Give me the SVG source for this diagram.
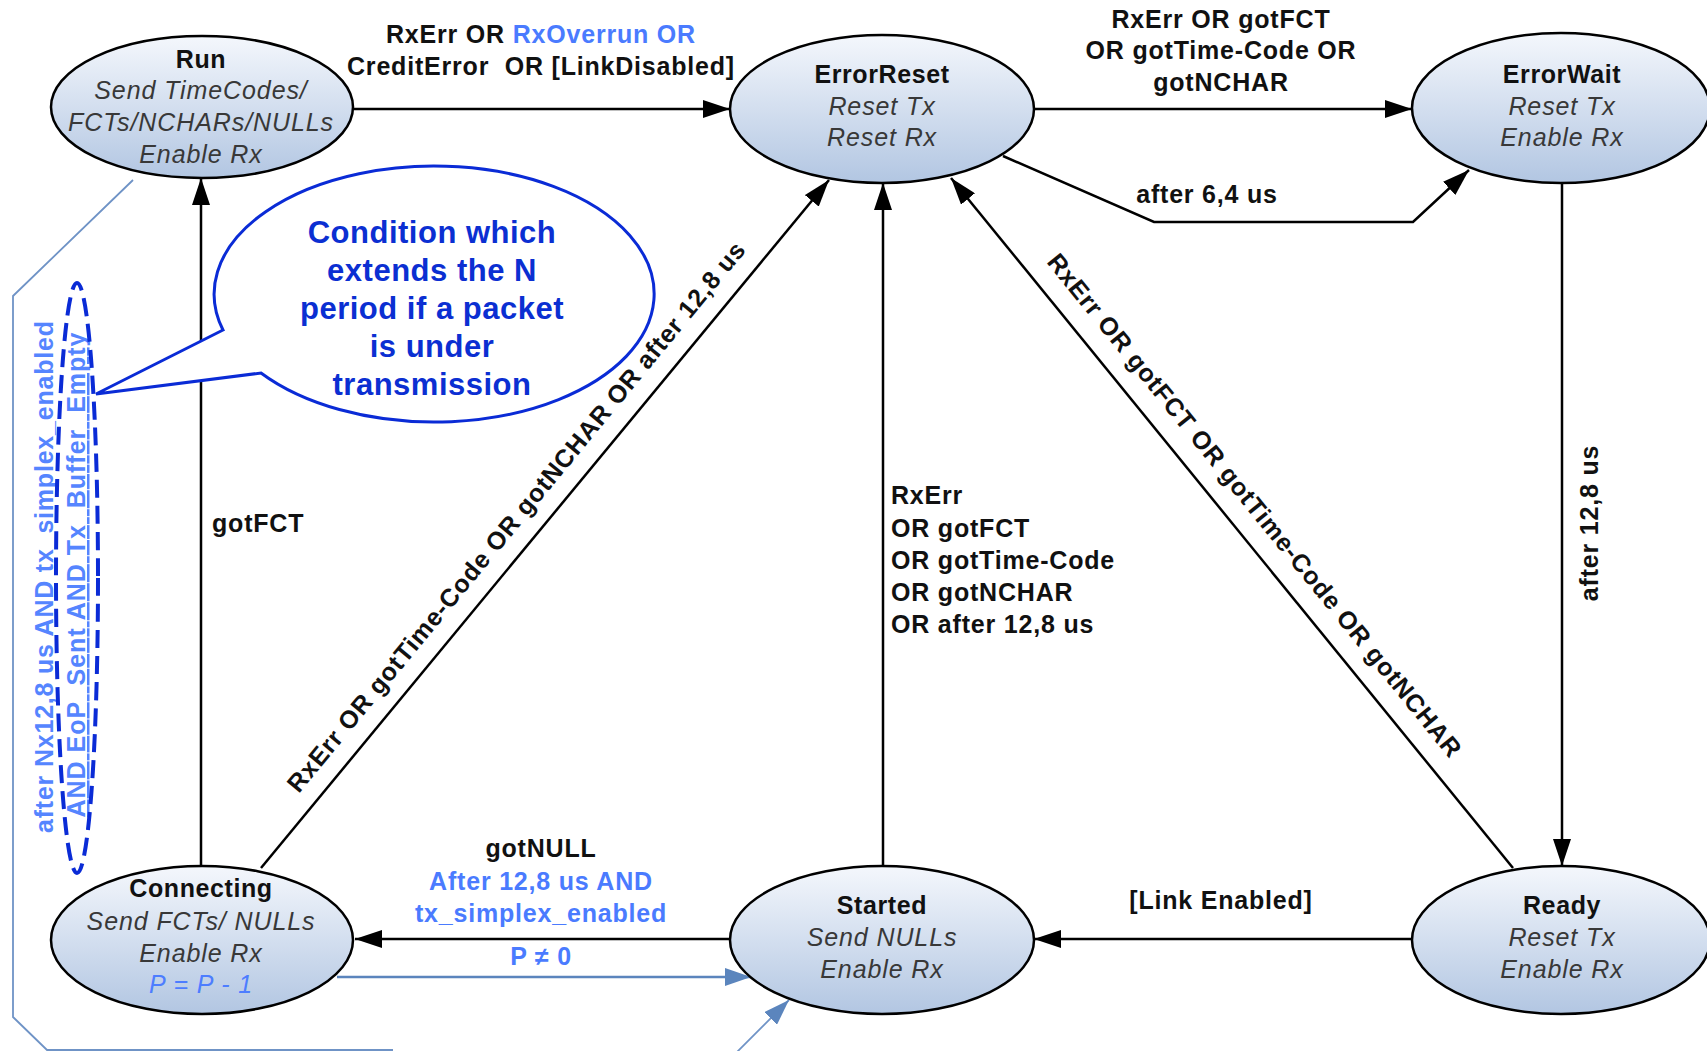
<svg xmlns="http://www.w3.org/2000/svg" width="1707" height="1051" viewBox="0 0 1707 1051">
  <defs>
    <linearGradient id="nodeFill" x1="0" y1="0" x2="0" y2="1">
      <stop offset="0" stop-color="#f4f7fc"/>
      <stop offset="1" stop-color="#b2c6e2"/>
    </linearGradient>
    <marker id="arrow" markerUnits="userSpaceOnUse" markerWidth="27" markerHeight="18" refX="27" refY="9" orient="auto">
      <path d="M0,0 L27,9 L0,18 Z" fill="#000"/>
    </marker>
    <marker id="arrowBlue" markerUnits="userSpaceOnUse" markerWidth="26" markerHeight="18" refX="26" refY="9" orient="auto">
      <path d="M0,0 L26,9 L0,18 Z" fill="#5b85bd"/>
    </marker>
    <style>
      .state { fill: url(#nodeFill); stroke: #000; stroke-width: 2.5; }
      .title { font-family: "Liberation Sans", Arial, sans-serif; font-weight: bold; font-size: 25px; letter-spacing: 0.6px; fill: #111; text-anchor: middle; }
      .action { font-family: "Liberation Sans", Arial, sans-serif; font-style: italic; font-size: 25px; letter-spacing: 0.9px; fill: #383838; text-anchor: middle; }
      .blueAction { font-family: "Liberation Sans", Arial, sans-serif; font-style: italic; font-size: 25px; letter-spacing: 0.9px; fill: #4d7dff; text-anchor: middle; }
      .edge { fill: none; stroke: #000; stroke-width: 2.5; }
      .edgeBlue { fill: none; stroke: #5b85bd; stroke-width: 2.5; }
      .edgeBlueThin { fill: none; stroke: #6f93c6; stroke-width: 1.8; }
      .label { font-family: "Liberation Sans", Arial, sans-serif; font-weight: bold; font-size: 25px; letter-spacing: 0.8px; fill: #111; }
      .mid { text-anchor: middle; }
      .blue { fill: #4a7bff; }
      .note { font-family: "Liberation Sans", Arial, sans-serif; font-weight: bold; font-size: 31px; letter-spacing: 0.5px; fill: #0b2fd2; text-anchor: middle; }
      .vert { font-family: "Liberation Sans", Arial, sans-serif; font-weight: bold; font-size: 25px; fill: #5585ff; text-anchor: middle; white-space: pre; }
    </style>
  </defs>

  <!-- transitions -->
  <g id="connectors">
    <!-- Run -> ErrorReset -->
    <line class="edge" x1="354" y1="109" x2="730" y2="109" marker-end="url(#arrow)"/>
    <!-- ErrorReset -> ErrorWait -->
    <line class="edge" x1="1034" y1="109" x2="1412" y2="109" marker-end="url(#arrow)"/>
    <!-- ErrorReset -> ErrorWait (timeout) -->
    <polyline class="edge" points="1003,156 1154,222 1413,222 1469,170" marker-end="url(#arrow)"/>
    <!-- ErrorWait -> Ready -->
    <line class="edge" x1="1562" y1="183" x2="1562" y2="866" marker-end="url(#arrow)"/>
    <!-- Ready -> Started -->
    <line class="edge" x1="1414" y1="939" x2="1034" y2="939" marker-end="url(#arrow)"/>
    <!-- Ready -> ErrorReset -->
    <line class="edge" x1="1513" y1="868" x2="951" y2="178" marker-end="url(#arrow)"/>
    <!-- Started -> ErrorReset -->
    <line class="edge" x1="883" y1="866" x2="883" y2="183" marker-end="url(#arrow)"/>
    <!-- Connecting -> ErrorReset -->
    <line class="edge" x1="261" y1="868" x2="829" y2="180" marker-end="url(#arrow)"/>
    <!-- Connecting -> Run -->
    <line class="edge" x1="201" y1="866" x2="201" y2="178" marker-end="url(#arrow)"/>
    <!-- Started -> Connecting -->
    <line class="edge" x1="730" y1="939" x2="355" y2="939" marker-end="url(#arrow)"/>
    <!-- Connecting -> Started (P = P - 1 loop) -->
    <line class="edgeBlue" x1="337" y1="977" x2="751" y2="977" marker-end="url(#arrowBlue)"/>
    <!-- Run -> Started (simplex) -->
    <polyline class="edgeBlueThin" points="133,180 13,296 13,1017 47,1050 393,1050"/>
    <line class="edgeBlueThin" x1="737" y1="1052" x2="789" y2="1000" marker-end="url(#arrowBlue)"/>
  </g>

  <!-- transition labels -->
  <g id="labels">
    <text class="label mid" x="541" y="43">RxErr OR <tspan class="blue">RxOverrun OR</tspan></text>
    <text class="label mid" x="541" y="75" style="white-space:pre">CreditError  OR [LinkDisabled]</text>

    <text class="label mid" x="1221" y="28">RxErr OR gotFCT</text>
    <text class="label mid" x="1221" y="59">OR gotTime-Code OR</text>
    <text class="label mid" x="1221" y="91">gotNCHAR</text>

    <text class="label mid" x="1207" y="203">after 6,4 us</text>

    <text class="label mid" transform="translate(1598,523) rotate(-90)">after 12,8 us</text>

    <text class="label mid" x="1221" y="909">[Link Enabled]</text>

    <text class="label mid" transform="translate(1248,511) rotate(50.9)">RxErr OR gotFCT OR gotTime-Code OR gotNCHAR</text>

    <text class="label" x="891" y="504">RxErr</text>
    <text class="label" x="891" y="537">OR gotFCT</text>
    <text class="label" x="891" y="569">OR gotTime-Code</text>
    <text class="label" x="891" y="601">OR gotNCHAR</text>
    <text class="label" x="891" y="633">OR after 12,8 us</text>

    <text class="label mid" transform="translate(523,522) rotate(-50.5)">RxErr OR gotTime-Code OR gotNCHAR OR after 12,8 us</text>

    <text class="label" x="212" y="532">gotFCT</text>

    <text class="label mid" x="541" y="857">gotNULL</text>
    <text class="label mid blue" x="541" y="890">After 12,8 us AND</text>
    <text class="label mid blue" x="541" y="922">tx_simplex_enabled</text>
    <text class="label mid blue" x="541" y="965">P ≠ 0</text>

    <text class="vert" transform="translate(53,577) rotate(-90)" textLength="512">after Nx12,8 us AND tx_simplex_enabled</text>
    <text class="vert" transform="translate(85,575) rotate(-90)" textLength="485" text-decoration="underline">AND EoP  Sent AND Tx  Buffer  Empty</text>
  </g>

  <!-- states -->
  <g id="Run">
    <ellipse class="state" cx="202" cy="107" rx="151" ry="71"/>
    <text class="title" x="201" y="68">Run</text>
    <text class="action" x="201" y="99">Send TimeCodes/</text>
    <text class="action" x="201" y="131">FCTs/NCHARs/NULLs</text>
    <text class="action" x="201" y="163">Enable Rx</text>
  </g>

  <g id="ErrorReset">
    <ellipse class="state" cx="882" cy="109" rx="152" ry="74"/>
    <text class="title" x="882" y="83">ErrorReset</text>
    <text class="action" x="882" y="115">Reset Tx</text>
    <text class="action" x="882" y="146">Reset Rx</text>
  </g>

  <g id="ErrorWait">
    <ellipse class="state" cx="1561" cy="108" rx="149" ry="75"/>
    <text class="title" x="1562" y="83">ErrorWait</text>
    <text class="action" x="1562" y="115">Reset Tx</text>
    <text class="action" x="1562" y="146">Enable Rx</text>
  </g>

  <g id="Connecting">
    <ellipse class="state" cx="202" cy="940" rx="151" ry="74"/>
    <text class="title" x="201" y="897">Connecting</text>
    <text class="action" x="201" y="930">Send FCTs/ NULLs</text>
    <text class="action" x="201" y="962">Enable Rx</text>
    <text class="blueAction" x="201" y="993">P = P - 1</text>
  </g>

  <g id="Started">
    <ellipse class="state" cx="882" cy="940" rx="152" ry="74"/>
    <text class="title" x="882" y="914">Started</text>
    <text class="action" x="882" y="946">Send NULLs</text>
    <text class="action" x="882" y="978">Enable Rx</text>
  </g>

  <g id="Ready">
    <ellipse class="state" cx="1561" cy="940" rx="149" ry="74"/>
    <text class="title" x="1562" y="914">Ready</text>
    <text class="action" x="1562" y="946">Reset Tx</text>
    <text class="action" x="1562" y="978">Enable Rx</text>
  </g>

  <!-- annotation callout -->
  <g id="callout">
    <ellipse cx="77" cy="578" rx="21" ry="295" fill="none" stroke="#0a2bd6" stroke-width="4" stroke-dasharray="18 8"/>
    <path d="M223,330 L96,394 L261,373 A220,128 0 1 0 223,330 Z" fill="#fff" stroke="#0a2bd6" stroke-width="3"/>
    <text class="note" x="432" y="243">Condition which</text>
    <text class="note" x="432" y="281">extends the N</text>
    <text class="note" x="432" y="319">period if a packet</text>
    <text class="note" x="432" y="357">is under</text>
    <text class="note" x="432" y="395">transmission</text>
  </g>
</svg>
